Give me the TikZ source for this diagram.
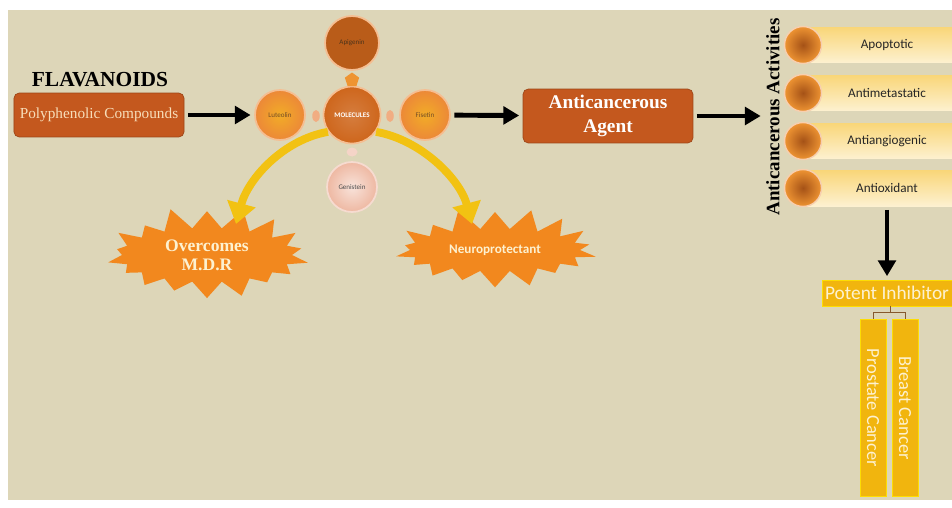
\documentclass[tikz,border=0pt]{standalone}
\usepackage{fontspec}
\setmainfont{Liberation Serif}
\newfontfamily\calib{Carlito}
\usetikzlibrary{arrows.meta,positioning,shapes.geometric,shapes.symbols}

\definecolor{bgc}{RGB}{221,214,184}
\definecolor{rust}{RGB}{196,88,30}
\definecolor{rusttxt}{RGB}{247,222,186}
\definecolor{orng}{RGB}{236,136,56}
\definecolor{orngdk}{RGB}{206,102,28}
\definecolor{peach}{RGB}{238,184,162}
\definecolor{burst}{RGB}{242,136,30}
\definecolor{gold}{RGB}{242,194,18}
\definecolor{amber}{RGB}{241,181,14}
\definecolor{cream}{RGB}{253,241,208}
\definecolor{creamtop}{RGB}{249,214,120}

\tikzset{
  rustbox/.style={draw=rust!80!black, fill=rust, rounded corners=3pt, text=rusttxt},
  mol/.style={circle, draw=orng!55!white, line width=1pt, inner sep=0pt,
    font=\calib\fontsize{4}{5}\selectfont, text=brown!60!black},
  dot/.style={ellipse, fill=peach!80!orange, minimum width=0.15cm, minimum height=0.24cm, inner sep=0pt},
  blkarrow/.style={line width=2.8pt, -{Triangle[length=9pt,width=10pt]}, shorten <=2pt, shorten >=2pt},
  yarrow/.style={gold, line width=4.5pt, -{Triangle[length=12pt,width=16pt]}},
  burstnode/.style={starburst, fill=burst, starburst points=18, starburst point height=0.45cm,
    random starburst=11, minimum width=4.3cm, minimum height=1.75cm, inner sep=2pt, text=cream},
  actbar/.style={rectangle, minimum width=3.04cm, minimum height=0.72cm, top color=creamtop,
    bottom color=cream, font=\calib\fontsize{7.5}{9}\selectfont, text=black!85},
  actdot/.style={circle, minimum size=0.74cm, inner sep=0pt, inner color=orngdk!80!black,
    outer color=orng!90!yellow, draw=orng!40!white, thick},
  cancer/.style={rotate=-90, fill=amber, draw=yellow!80!orange, minimum width=3.54cm,
    minimum height=0.52cm, inner sep=1pt, text=cream, font=\calib\fontsize{10.5}{12}\selectfont},
  twig/.style={brown!70!black, thin}
}

\begin{document}
\begin{tikzpicture}[x=0.02cm, y=-0.02cm, every node/.style={font=\footnotesize}]
  % CANVAS
  \useasboundingbox (0,0) rectangle (952,507);
  \fill[bgc] (8,10) rectangle (952,500);

  % SOURCE BOX
  \node[font=\bfseries\fontsize{12.2}{14}\selectfont] (flav) at (100,80) {FLAVANOIDS};
  \node[rustbox, minimum width=3.36cm, minimum height=0.88cm, font=\fontsize{8.7}{10}\selectfont] (poly) at (99,115) {Polyphenolic Compounds};

  % MOLECULE CLUSTER
  \node[mol, minimum size=1.0cm, inner color=orng!70!yellow, outer color=orng] (lut) at (280,115) {Luteolin};
  \node[mol, minimum size=1.14cm, inner color=orngdk!85!white, outer color=orngdk, text=white,
    font=\calib\bfseries\fontsize{4}{5}\selectfont] (molc) at (352,115) {MOLECULES};
  \node[mol, minimum size=1.0cm, inner color=orng!70!yellow, outer color=orng] (fis) at (425,115) {Fisetin};
  \node[mol, minimum size=1.08cm, inner color=orngdk!90!black, outer color=orngdk!90!black, text=brown!40!black] (api) at (352,43) {Apigenin};
  \node[mol, minimum size=1.0cm, inner color=peach!40!white, outer color=peach, draw=peach!50!white, text=black!70] (gen) at (352,187) {Genistein};
  \node[dot] (dl) at (316,116) {};
  \node[dot] (dr) at (390,116) {};
  \node[dot, minimum width=0.22cm, minimum height=0.18cm, fill=peach!60!white] (db) at (352,152) {};
  \node[regular polygon, regular polygon sides=5, fill=orng!90!yellow, minimum size=0.3cm, inner sep=0pt] (pent) at (352,80) {};

  % STARBURSTS
  \node[burstnode, align=center, font=\bfseries\fontsize{10}{11}\selectfont] (mdr) at (207,255) {Overcomes\\M.D.R};
  \node[burstnode, font=\calib\bfseries\fontsize{7.5}{9}\selectfont] (neu) at (495,250) {Neuroprotectant};

  % YELLOW ARROWS
  \coordinate (mdrtip) at (236,224);
  \coordinate (neutip) at (472,224);
  \draw[yarrow] (molc.215) .. controls +(-45,8) and +(12,-45) .. (mdrtip);
  \draw[yarrow] (molc.325) .. controls +(45,8) and +(-12,-45) .. (neutip);

  % AGENT AND ACTIVITIES
  \node[rustbox, minimum width=3.4cm, minimum height=0.96cm, align=center, text=white,
    font=\bfseries\fontsize{11}{14}\selectfont] (agent) at (608,116) {Anticancerous\\Agent};
  \node[rotate=90, inner sep=1pt, font=\bfseries\fontsize{10.8}{12}\selectfont] (acttitle) at (773,117) {Anticancerous Activities};

  \foreach \y/\nm/\lbl in {45/apo/Apoptotic, 93/met/Antimetastatic, 141/ang/Antiangiogenic, 188/aox/Antioxidant}{
    \node[actbar] (\nm) at (876,\y) {\hspace*{0.44cm}\lbl};
    \node[actdot] (\nm dot) at (803,\y) {};
  }

  % MAIN FLOW
  \draw[blkarrow] (poly) -- (lut);
  \draw[blkarrow] (fis) -- (agent);
  \draw[blkarrow] (agent) -- (agent -| acttitle.north);

  % INHIBITOR AND CANCERS
  \node[fill=amber, draw=yellow!80!orange, minimum width=2.6cm, minimum height=0.52cm, inner sep=1pt,
    text=cream, font=\calib\fontsize{11}{12}\selectfont] (pot) at (887,293) {Potent Inhibitor};
  \draw[blkarrow] (aox.south -| pot.north) -- (pot.north);

  \node[cancer] (pros) at (873,408) {Prostate Cancer};
  \node[cancer] (brst) at (905,408) {Breast Cancer};
  \coordinate (split) at (890,312);
  \draw[twig] (pot.south -| split) -- (split);
  \draw[twig] (split) -| (pros.west);
  \draw[twig] (split) -| (brst.west);
\end{tikzpicture}
\end{document}
